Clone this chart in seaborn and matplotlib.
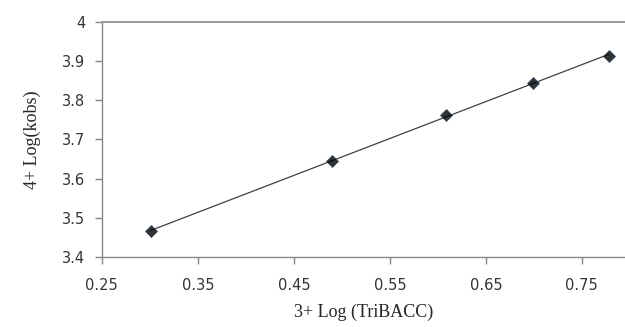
import matplotlib
matplotlib.use("Agg")
import matplotlib.pyplot as plt
import seaborn as sns
import pandas as pd

log_tribacc = [0.301, 0.490, 0.608, 0.699, 0.778]
log_kobs = [3.466, 3.645, 3.763, 3.845, 3.912]
x_ticks = [0.25, 0.35, 0.45, 0.55, 0.65, 0.75]
y_ticks = [3.4, 3.5, 3.6, 3.7, 3.8, 3.9, 4.0]
y_tick_labels = ["3.4", "3.5", "3.6", "3.7", "3.8", "3.9", "4"]

df = pd.DataFrame({"x": log_tribacc, "y": log_kobs})

sns.set_style("white")
plt.rcParams["font.family"] = ["DejaVu Sans"]

fig = plt.figure(figsize=(6.25, 3.27), dpi=100)
ax = fig.add_axes([0.163, 0.214, 0.837, 0.719])

sns.regplot(data=df, x="x", y="y", ci=None, ax=ax,
            marker="D",
            scatter_kws={"color": "black", "s": 38, "zorder": 3, "edgecolor": "#1f3b5a", "linewidths": 0.5},
            line_kws={"color": "#404040", "linewidth": 0.9})

ax.set_xlim(0.25, 0.795)
ax.set_ylim(3.4, 4.0)
ax.set_xticks(x_ticks)
ax.set_xticklabels([f"{v:.2f}" for v in x_ticks])
ax.set_yticks(y_ticks)
ax.set_yticklabels(y_tick_labels)
ax.axhline(4.0, color="#888888", linewidth=1.2, clip_on=False)

for s in ["top", "right"]:
    ax.spines[s].set_visible(False)
for s in ["left", "bottom"]:
    ax.spines[s].set_color("#888888")
    ax.spines[s].set_linewidth(1.0)

ax.tick_params(axis="both", direction="out", length=5, width=1, color="#888888",
               labelsize=10.5, labelcolor="#333333", bottom=True, left=True)
ax.tick_params(axis="x", pad=10)
ax.tick_params(axis="y", pad=7)

ax.set_xlabel("3+ Log (TriBACC)", family="Liberation Serif", fontsize=13, labelpad=8)
ax.set_ylabel("4+ Log(kobs)", family="Liberation Serif", fontsize=13, labelpad=15)

fig.savefig("out.png", dpi=100)
